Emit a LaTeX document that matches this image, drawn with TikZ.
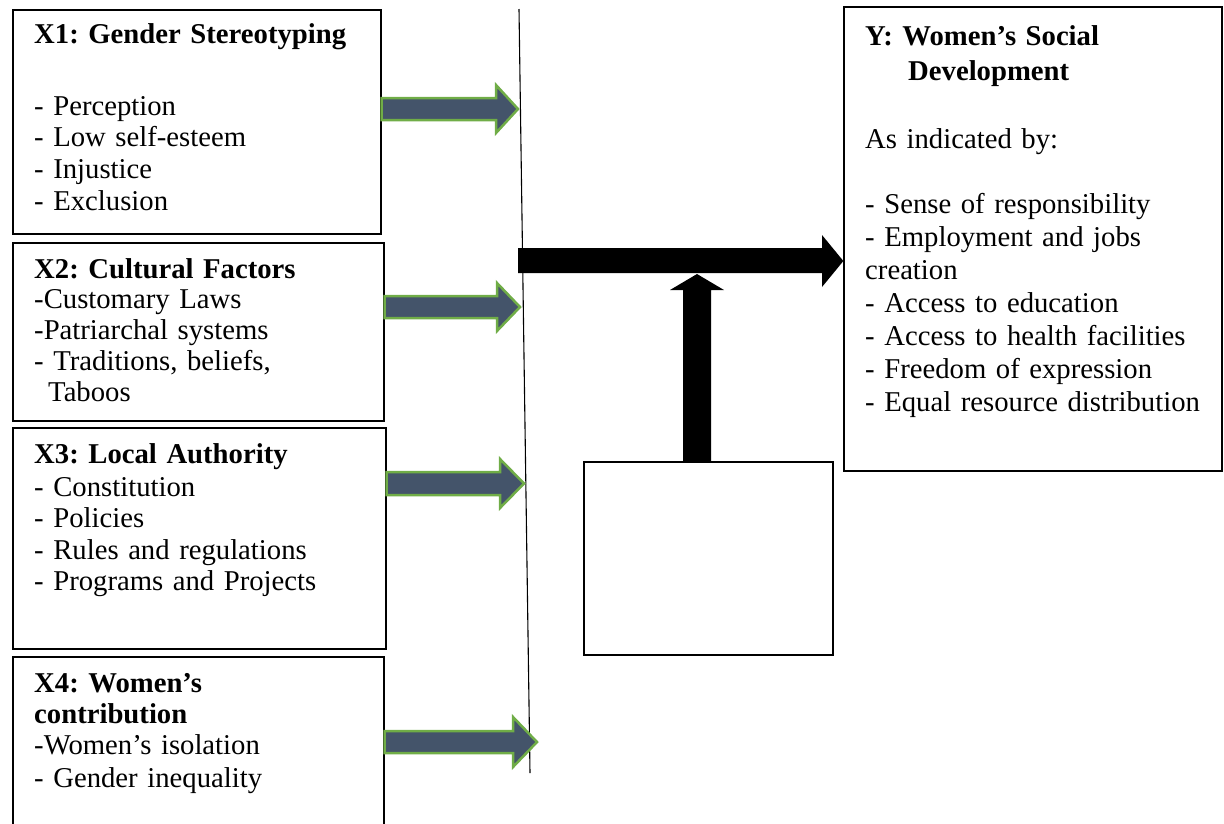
\documentclass[tikz,border=0pt]{standalone}
\usepackage{fontspec}
\setmainfont{Liberation Serif}
\frenchspacing
\definecolor{slate}{HTML}{44546A}
\definecolor{leaf}{HTML}{70AD47}
\tikzset{
  frame/.style={draw, line width=1.3pt, inner sep=0pt, rectangle},
  txt/.style={anchor=base west, inner sep=0pt, text width=350pt, align=left},
  bluearrow/.style={fill=slate, draw=leaf, line width=2.5pt, line join=miter},
  blackarrow/.style={fill=black, draw=none},
  vline/.style={draw=black, line width=1.1pt},
}
\newcommand\bodyfont[1]{\fontsize{28.7}{#1}\selectfont\frenchspacing}
\begin{document}
\begin{tikzpicture}[x=1pt,y=-1pt]
\clip (0,0) rectangle (1224,823);
% boxes
\node[frame, minimum width=368pt, minimum height=224pt] (x1) at (197,122) {};
\node[frame, minimum width=371pt, minimum height=178pt] (x2) at (198.5,332) {};
\node[frame, minimum width=373pt, minimum height=221pt] (x3) at (199.5,538.5) {};
\node[frame, minimum width=371pt, minimum height=183pt] (x4) at (198.5,748.5) {};
\node[frame, minimum width=378pt, minimum height=464pt] (y) at (1033,239) {};
\node[frame, minimum width=249pt, minimum height=193pt] (e) at (708.5,558.5) {};
% vertical line
\coordinate (vtop) at (519,9);
\coordinate (vbot) at (530,773);
\draw[vline] (vtop) -- (vbot);
% blue arrows
\draw[bluearrow] (x1.east |- 0,98) -- (496,98) -- (496,85) -- (518,109) -- (496,133) -- (496,120) -- (x1.east |- 0,120) -- cycle;
\draw[bluearrow] (x2.east |- 0,296) -- (497,296) -- (497,283) -- (520,307) -- (497,331) -- (497,318) -- (x2.east |- 0,318) -- cycle;
\draw[bluearrow] (x3.east |- 0,472) -- (500,472) -- (500,459) -- (524,483.5) -- (500,508) -- (500,495) -- (x3.east |- 0,495) -- cycle;
\draw[bluearrow] (x4.east |- 0,731) -- (513,731) -- (513,717) -- (537,742) -- (513,767) -- (513,753) -- (x4.east |- 0,753) -- cycle;
% black T arrows
\draw[blackarrow] (518,248) -- (822,248) -- (822,235) -- (y.west |- 0,261) -- (822,287) -- (822,273) -- (518,273) -- cycle;
\draw[blackarrow] (e.north -| 683,0) -- (683,290) -- (670,290) -- (697,274) -- (724,290) -- (711,290) -- (e.north -| 711,0) -- cycle;
% texts
\node[txt, font=\bodyfont{31.7}\bfseries] (t1a) at (34,43) {X1: Gender Stereotyping};
\node[txt, font=\bodyfont{31.7}] (t1b) at (34,115) {- Perception\\- Low self-esteem\\- Injustice\\- Exclusion};
\node[txt, font=\bodyfont{31}\bfseries] (t2a) at (34,278) {X2: Cultural Factors};
\node[txt, font=\bodyfont{31}] (t2b) at (34,308) {-Customary Laws\\-Patriarchal systems\\- Traditions, beliefs,\\\hspace*{14pt}Taboos};
\node[txt, font=\bodyfont{31.5}\bfseries] (t3a) at (34,463) {X3: Local Authority};
\node[txt, font=\bodyfont{31.5}] (t3b) at (34,496) {- Constitution\\- Policies\\- Rules and regulations\\- Programs and Projects};
\node[txt, font=\bodyfont{31}\bfseries] (t4a) at (34,692) {X4: Women’s\\contribution};
\node[txt, font=\bodyfont{33}] (t4b) at (34,754) {-Women’s isolation\\- Gender inequality};
\node[txt, font=\bodyfont{35}\bfseries] (ty1) at (865,45) {Y: Women’s Social\\\hspace*{43pt}Development};
\node[txt, font=\bodyfont{33}] (ty2) at (865,148) {As indicated by:};
\node[txt, font=\bodyfont{33}] (ty3) at (865,213) {- Sense of responsibility\\- Employment and jobs\\creation\\- Access to education\\- Access to health facilities\\- Freedom of expression\\- Equal resource distribution};
\end{tikzpicture}
\end{document}
